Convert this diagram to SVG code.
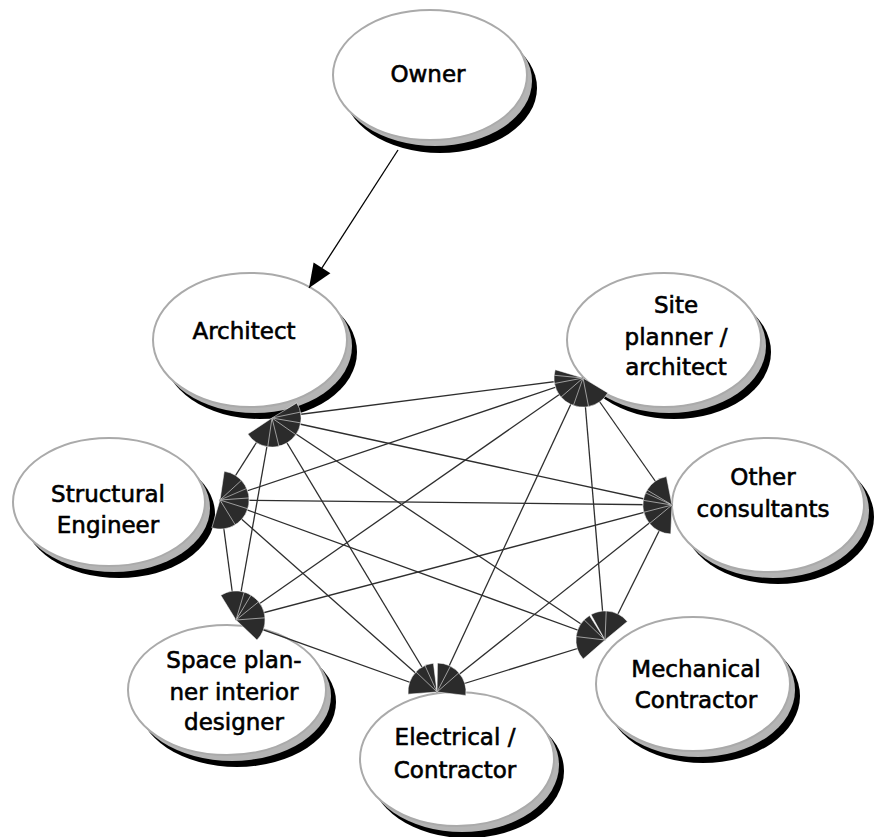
<svg xmlns="http://www.w3.org/2000/svg" width="878" height="837" viewBox="0 0 878 837">
  <style>
    .sh2 { fill: #000; }
    .sh1 { fill: #b4b4b4; }
    .body { fill: #fff; stroke: #aaa; stroke-width: 2; }
    .lbl { font-family: "DejaVu Sans", "Liberation Sans", sans-serif; font-size: 23px; fill: #000; stroke: #000; stroke-width: 0.6; text-anchor: middle; }
    .link { stroke: #2e2e2e; stroke-width: 1.3; fill: none; marker-start: url(#fan); marker-end: url(#fan); }
    .lead { stroke: #000; stroke-width: 1.3; fill: none; marker-end: url(#tri); }
  </style>
  <defs>
    <!-- wedge-shaped head used on both ends of every mesh link -->
    <marker id="fan" markerUnits="userSpaceOnUse" orient="auto-start-reverse" markerWidth="1" markerHeight="1" refX="0" refY="0" overflow="visible">
      <path d="M0,0 L-26.5,-11.8 A29,29 0 0 0 -26.5,11.8 Z" fill="#2b2b2b" stroke="#fff" stroke-width="0.5"/>
    </marker>
    <marker id="tri" markerUnits="userSpaceOnUse" orient="auto" markerWidth="1" markerHeight="1" refX="0" refY="0" overflow="visible">
      <path d="M0,0 L-24,-10 L-24,10 Z" fill="#000"/>
    </marker>
  </defs>

  <!-- nodes: black and grey drop shadows under a white ellipse -->
  <g id="owner">
    <ellipse class="sh2" cx="440" cy="88" rx="97" ry="65"/>
    <ellipse class="sh1" cx="435" cy="81" rx="97" ry="65"/>
    <ellipse class="body" cx="430" cy="75" rx="97" ry="65"/>
    <text class="lbl" x="428" y="82">Owner</text>
  </g>
  <g id="architect">
    <ellipse class="sh2" cx="260" cy="352" rx="97" ry="67"/>
    <ellipse class="sh1" cx="255" cy="346" rx="97" ry="67"/>
    <ellipse class="body" cx="250" cy="340" rx="97" ry="67"/>
    <text class="lbl" x="244" y="339">Architect</text>
  </g>
  <g id="site-planner">
    <ellipse class="sh2" cx="674" cy="352" rx="97" ry="67"/>
    <ellipse class="sh1" cx="669" cy="346" rx="97" ry="67"/>
    <ellipse class="body" cx="664" cy="340" rx="97" ry="67"/>
    <text class="lbl" x="676" y="313">Site</text>
    <text class="lbl" x="676" y="345">planner /</text>
    <text class="lbl" x="676" y="375">architect</text>
  </g>
  <g id="structural-engineer">
    <ellipse class="sh2" cx="119" cy="514" rx="96" ry="64"/>
    <ellipse class="sh1" cx="114" cy="508" rx="96" ry="64"/>
    <ellipse class="body" cx="109" cy="502" rx="96" ry="64"/>
    <text class="lbl" x="108" y="502">Structural</text>
    <text class="lbl" x="108" y="533">Engineer</text>
  </g>
  <g id="other-consultants">
    <ellipse class="sh2" cx="778" cy="517" rx="96" ry="67"/>
    <ellipse class="sh1" cx="773" cy="511" rx="96" ry="67"/>
    <ellipse class="body" cx="768" cy="505" rx="96" ry="67"/>
    <text class="lbl" x="763" y="485">Other</text>
    <text class="lbl" x="763" y="517">consultants</text>
  </g>
  <g id="space-planner">
    <ellipse class="sh2" cx="237" cy="702" rx="99" ry="65"/>
    <ellipse class="sh1" cx="232" cy="696" rx="99" ry="65"/>
    <ellipse class="body" cx="227" cy="690" rx="99" ry="65"/>
    <text class="lbl" x="234" y="668">Space plan-</text>
    <text class="lbl" x="234" y="700">ner interior</text>
    <text class="lbl" x="234" y="730">designer</text>
  </g>
  <g id="mechanical-contractor">
    <ellipse class="sh2" cx="703" cy="696" rx="97" ry="67"/>
    <ellipse class="sh1" cx="698" cy="690" rx="97" ry="67"/>
    <ellipse class="body" cx="693" cy="684" rx="97" ry="67"/>
    <text class="lbl" x="696" y="677">Mechanical</text>
    <text class="lbl" x="696" y="708">Contractor</text>
  </g>
  <g id="electrical-contractor">
    <ellipse class="sh2" cx="467" cy="771" rx="97" ry="67"/>
    <ellipse class="sh1" cx="462" cy="765" rx="97" ry="67"/>
    <ellipse class="body" cx="457" cy="759" rx="97" ry="67"/>
    <text class="lbl" x="455" y="745">Electrical /</text>
    <text class="lbl" x="455" y="778">Contractor</text>
  </g>

  <!-- connectors -->
  <g id="connectors">
    <line class="lead" x1="398" y1="150" x2="309" y2="288"/>

    <!-- architect -->
    <line class="link" x1="272" y1="418" x2="583" y2="378"/>
    <line class="link" x1="272" y1="418" x2="672" y2="505"/>
    <line class="link" x1="272" y1="418" x2="605" y2="640"/>
    <line class="link" x1="272" y1="418" x2="437" y2="692"/>
    <line class="link" x1="272" y1="418" x2="236" y2="620"/>
    <line class="link" x1="272" y1="418" x2="220" y2="500"/>
    <!-- structural engineer -->
    <line class="link" x1="220" y1="500" x2="583" y2="378"/>
    <line class="link" x1="220" y1="500" x2="672" y2="505"/>
    <line class="link" x1="220" y1="500" x2="605" y2="640"/>
    <line class="link" x1="220" y1="500" x2="437" y2="692"/>
    <line class="link" x1="220" y1="500" x2="236" y2="620"/>
    <!-- site planner -->
    <line class="link" x1="583" y1="378" x2="236" y2="620"/>
    <line class="link" x1="583" y1="378" x2="437" y2="692"/>
    <line class="link" x1="583" y1="378" x2="605" y2="640"/>
    <line class="link" x1="583" y1="378" x2="672" y2="505"/>
    <!-- other consultants -->
    <line class="link" x1="672" y1="505" x2="236" y2="620"/>
    <line class="link" x1="672" y1="505" x2="437" y2="692"/>
    <line class="link" x1="672" y1="505" x2="605" y2="640"/>
    <!-- space planner / electrical / mechanical -->
    <line class="link" x1="236" y1="620" x2="437" y2="692"/>
    <line class="link" x1="437" y1="692" x2="605" y2="640"/>
  </g>
</svg>
